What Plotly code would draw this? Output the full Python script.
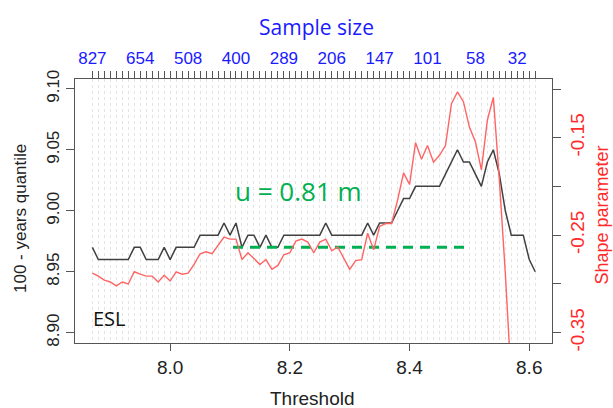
import plotly.graph_objects as go

# ---- data ----
thresholds = [7.87, 7.88, 7.89, 7.90, 7.91, 7.92, 7.93, 7.94, 7.95, 7.96,
              7.97, 7.98, 7.99, 8.00, 8.01, 8.02, 8.03, 8.04, 8.05, 8.06,
              8.07, 8.08, 8.09, 8.10, 8.11, 8.12, 8.13, 8.14, 8.15, 8.16,
              8.17, 8.18, 8.19, 8.20, 8.21, 8.22, 8.23, 8.24, 8.25, 8.26,
              8.27, 8.28, 8.29, 8.30, 8.31, 8.32, 8.33, 8.34, 8.35, 8.36,
              8.37, 8.38, 8.39, 8.40, 8.41, 8.42, 8.43, 8.44, 8.45, 8.46,
              8.47, 8.48, 8.49, 8.50, 8.51, 8.52, 8.53, 8.54, 8.55, 8.56,
              8.57, 8.58, 8.59, 8.60, 8.61]

quantile_100y = [8.97, 8.96, 8.96, 8.96, 8.96, 8.96, 8.96, 8.97, 8.97, 8.96,
                 8.96, 8.96, 8.97, 8.96, 8.97, 8.97, 8.97, 8.97, 8.98, 8.98,
                 8.98, 8.98, 8.99, 8.98, 8.99, 8.97, 8.98, 8.98, 8.97, 8.98,
                 8.97, 8.97, 8.98, 8.98, 8.98, 8.98, 8.98, 8.98, 8.98, 8.99,
                 8.98, 8.98, 8.98, 8.98, 8.98, 8.98, 8.99, 8.98, 8.99, 8.99,
                 8.99, 9.00, 9.01, 9.01, 9.02, 9.02, 9.02, 9.02, 9.02, 9.03,
                 9.04, 9.05, 9.04, 9.04, 9.03, 9.02, 9.04, 9.05, 9.03, 9.00,
                 8.98, 8.98, 8.98, 8.96, 8.95]

shape_param = [-0.289, -0.292, -0.296, -0.298, -0.302, -0.298, -0.300, -0.2875, -0.290, -0.292,
               -0.292, -0.298, -0.291, -0.297, -0.2875, -0.290, -0.289, -0.280, -0.269, -0.267,
               -0.269, -0.261, -0.252, -0.254, -0.254, -0.275, -0.268, -0.274, -0.280, -0.275,
               -0.285, -0.281, -0.270, -0.268, -0.256, -0.254, -0.257, -0.268, -0.257, -0.254,
               -0.266, -0.262, -0.273, -0.285, -0.276, -0.275, -0.248, -0.265, -0.241, -0.238,
               -0.238, -0.214, -0.186, -0.198, -0.155, -0.172, -0.158, -0.175, -0.168, -0.158,
               -0.115, -0.103, -0.113, -0.139, -0.154, -0.183, -0.132, -0.1085, -0.193, -0.289,
               -0.400]

sample_size_at = [7.87, 7.95, 8.03, 8.11, 8.19, 8.27, 8.35, 8.43, 8.51, 8.58]
sample_size_labels = ["827", "654", "508", "400", "289", "206", "147", "101", "58", "32"]

x_ticks = [8.0, 8.2, 8.4, 8.6]
x_ticklabels = ["8.0", "8.2", "8.4", "8.6"]
y_ticks = [8.90, 8.95, 9.00, 9.05, 9.10]
y_ticklabels = ["8.90", "8.95", "9.00", "9.05", "9.10"]
y2_ticks = [-0.35, -0.30, -0.25, -0.20, -0.15, -0.10]
y2_ticklabels = ["-0.35", "", "-0.25", "", "-0.15", ""]

u_start, u_end, u_level = 8.105, 8.495, 8.97
u_label = "u = 0.81 m"
u_label_x, u_label_y = 8.215, 9.016
site_label = "ESL"
site_x, site_y = 7.899, 8.912

# ---- figure ----
top_text = []
for t in thresholds:
    if t in sample_size_at:
        top_text.append(sample_size_labels[sample_size_at.index(t)])
    else:
        top_text.append("")

AX = "#555555"
BLUE = "#1a1aff"
RED = "#ff2a2a"
GREEN = "#00b050"
ARIAL = "Liberation Sans, Arial, sans-serif"
NARROW = "Liberation Sans Narrow, Liberation Sans, Arial, sans-serif"
CAL = "Open Sans, Lato, sans-serif"

fig = go.Figure()

# invisible trace to activate top axis
fig.add_trace(go.Scatter(x=thresholds, y=quantile_100y, xaxis="x2", yaxis="y",
                         mode="lines", line=dict(width=0), hoverinfo="skip",
                         showlegend=False, opacity=0))

fig.add_trace(go.Scatter(x=thresholds[:len(shape_param)], y=shape_param, yaxis="y2",
                         mode="lines", line=dict(color="#ff6464", width=1.4),
                         showlegend=False))
fig.add_trace(go.Scatter(x=thresholds, y=quantile_100y, yaxis="y",
                         mode="lines", line=dict(color="#404040", width=1.5),
                         showlegend=False))
fig.add_trace(go.Scatter(x=[u_start, u_end], y=[u_level, u_level], yaxis="y",
                         mode="lines", line=dict(color=GREEN, width=3, dash="10px,7px"),
                         showlegend=False))

xr = [7.841, 8.638]
fig.update_layout(
    width=613, height=408,
    margin=dict(l=75, r=61, t=79, b=65),
    paper_bgcolor="white", plot_bgcolor="white",
    xaxis=dict(range=xr, tickvals=x_ticks, ticktext=x_ticklabels,
               ticks="outside", ticklen=7, tickcolor=AX, tickwidth=1,
               showline=True, linecolor=AX, linewidth=1.3, mirror=True,
               showgrid=False, zeroline=False,
               tickfont=dict(family=ARIAL, size=19, color="#222222")),
    xaxis2=dict(range=xr, overlaying="x", side="top", anchor="y",
                tickvals=thresholds, ticktext=top_text,
                ticks="outside", ticklen=7, tickcolor=AX, tickwidth=1,
                showline=False, showgrid=True, gridcolor="#e4e4e4",
                griddash="dot", gridwidth=1, zeroline=False,
                tickfont=dict(family=ARIAL, size=17, color=BLUE)),
    yaxis=dict(range=[8.8916, 9.108], tickvals=y_ticks, ticktext=y_ticklabels,
               tickangle=-90, ticks="outside", ticklen=8, tickcolor=AX,
               showline=True, linecolor=AX, linewidth=1.3, mirror=True,
               showgrid=False, zeroline=False,
               tickfont=dict(family=NARROW, size=17, color="#222222")),
    yaxis2=dict(range=[-0.3606, -0.0897], overlaying="y", side="right",
                tickvals=y2_ticks, ticktext=y2_ticklabels, tickangle=-90,
                ticks="outside", ticklen=8, tickcolor=AX, showline=False,
                showgrid=False, zeroline=False,
                tickfont=dict(family=ARIAL, size=19, color=RED)),
    annotations=[
        dict(text="Sample size", xref="paper", yref="paper", x=0.507, y=1.197,
             xanchor="center", yanchor="middle", showarrow=False,
             font=dict(family=CAL, size=21, color=BLUE)),
        dict(text="Threshold", xref="paper", yref="paper", x=0.498, y=-0.212,
             xanchor="center", yanchor="middle", showarrow=False,
             font=dict(family=ARIAL, size=19, color="#222222")),
        dict(text="100 - years quantile", xref="paper", yref="paper", x=-0.113, y=0.47,
             xanchor="center", yanchor="middle", showarrow=False, textangle=-90,
             font=dict(family=ARIAL, size=17, color="#222222")),
        dict(text="Shape parameter", xref="paper", yref="paper", x=1.104, y=0.485,
             xanchor="center", yanchor="middle", showarrow=False, textangle=-90,
             font=dict(family=ARIAL, size=18, color=RED)),
        dict(text=u_label, xref="x", yref="y", x=u_label_x, y=u_label_y,
             xanchor="center", yanchor="middle", showarrow=False,
             font=dict(family=CAL, size=26, color=GREEN)),
        dict(text=site_label, xref="x", yref="y", x=site_x, y=site_y,
             xanchor="center", yanchor="middle", showarrow=False,
             font=dict(family=CAL, size=20, color="#111111")),
    ],
)

fig.write_html("out.html")
